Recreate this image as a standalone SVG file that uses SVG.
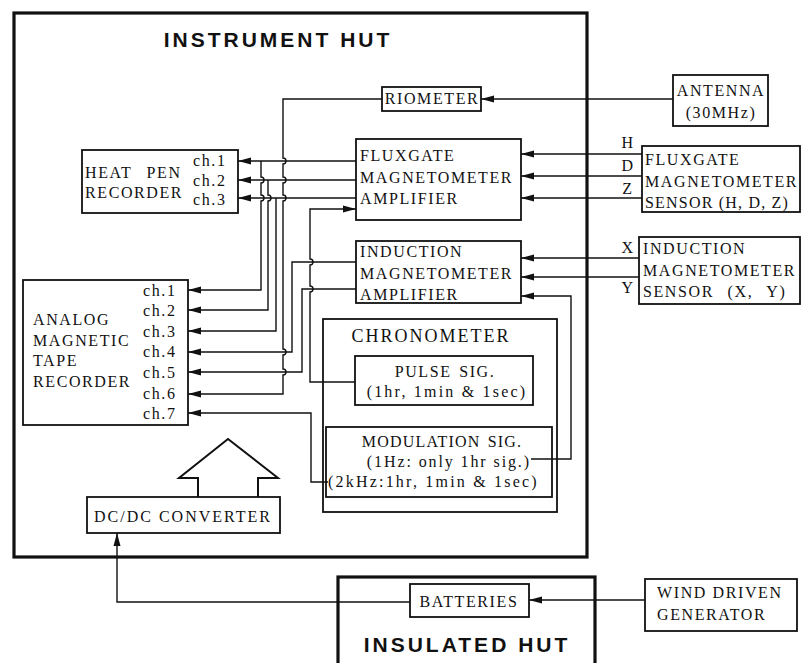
<svg xmlns="http://www.w3.org/2000/svg" width="801" height="663" viewBox="0 0 801 663">
<style>
.bg{fill:#fff}
.box{fill:none;stroke:#111;stroke-width:1.8}
.hut{fill:none;stroke:#111;stroke-width:3.2}
.ln{fill:none;stroke:#111;stroke-width:1.4}
.t{font-family:"Liberation Serif","Times New Roman",serif;font-size:16px;letter-spacing:1.6px;fill:#111}
.m{text-anchor:middle}
.e{text-anchor:end}
.h{font-family:"Liberation Sans",Arial,sans-serif;font-weight:bold;font-size:21px;letter-spacing:3px;fill:#111;text-anchor:middle}
</style>
<defs>
<marker id="ar" markerWidth="14" markerHeight="8" refX="13" refY="4" orient="auto" markerUnits="userSpaceOnUse">
<path d="M0,0.5 L13,4 L0,7.5 z" fill="#111"/>
</marker>
</defs>
<rect class="bg" x="0" y="0" width="801" height="663"/>

<g id="instrument-hut">
<rect class="hut" x="14" y="13" width="573" height="544"/>
<text class="h" x="278" y="47">INSTRUMENT HUT</text>
</g>
<g id="insulated-hut">
<rect class="hut" x="338" y="577" width="257" height="95"/>
<text class="h" x="467" y="652">INSULATED HUT</text>
</g>

<g id="connectors">
<path class="ln" d="M673,99 H481" marker-end="url(#ar)"/>
<path class="ln" d="M382,99 H283 V158 a3,3 0 0 1 0,6 V177 a3,3 0 0 1 0,6 V195 a3,3 0 0 1 0,6 V349 a3,3 0 0 1 0,6 V369 a3,3 0 0 1 0,6 V394 H188" marker-end="url(#ar)"/>
<path class="ln" d="M642,154 H521" marker-end="url(#ar)"/>
<path class="ln" d="M642,176 H521" marker-end="url(#ar)"/>
<path class="ln" d="M642,198 H521" marker-end="url(#ar)"/>
<path class="ln" d="M356,161 H238" marker-end="url(#ar)"/>
<path class="ln" d="M356,180 H238" marker-end="url(#ar)"/>
<path class="ln" d="M356,198 H238" marker-end="url(#ar)"/>
<path class="ln" d="M261,161 V177 a3,3 0 0 1 0,6 V195 a3,3 0 0 1 0,6 V290 H188" marker-end="url(#ar)"/>
<path class="ln" d="M268,180 V195 a3,3 0 0 1 0,6 V310 H188" marker-end="url(#ar)"/>
<path class="ln" d="M276,198 V331 H188" marker-end="url(#ar)"/>
<path class="ln" d="M639,258 H521" marker-end="url(#ar)"/>
<path class="ln" d="M639,277 H521" marker-end="url(#ar)"/>
<path class="ln" d="M356,262 H292 V352 H188" marker-end="url(#ar)"/>
<path class="ln" d="M356,289 H302 V372 H188" marker-end="url(#ar)"/>
<path class="ln" d="M355,382 H310 V292 a3,3 0 0 0 0,-6 V265 a3,3 0 0 0 0,-6 V209 H356" marker-end="url(#ar)"/>
<path class="ln" d="M328,482 H311 V413 H188" marker-end="url(#ar)"/>
<path class="ln" d="M531,459 H571 V296 H521" marker-end="url(#ar)"/>
<path class="ln" d="M410,602 H117 V533" marker-end="url(#ar)"/>
<path class="ln" d="M645,600 H529" marker-end="url(#ar)"/>
<path fill="none" stroke="#111" stroke-width="2" d="M198,497 V478 H179 L228,439 L278,478 H258 V497"/>
</g>

<g id="riometer">
<rect class="box" x="382" y="87" width="99" height="24"/>
<text class="t m" x="432" y="104">RIOMETER</text>
</g>
<g id="antenna">
<rect class="box" x="673" y="75" width="95" height="51"/>
<text class="t m" x="721" y="96">ANTENNA</text>
<text class="t m" x="721" y="118">(30MHz)</text>
</g>
<g id="heat-pen-recorder">
<rect class="box" x="82" y="150" width="156" height="63"/>
<text class="t" x="85" y="178" word-spacing="9">HEAT PEN</text>
<text class="t" x="85" y="198">RECORDER</text>
<text class="t" x="193" y="166">ch.1</text>
<text class="t" x="193" y="186">ch.2</text>
<text class="t" x="193" y="205">ch.3</text>
</g>
<g id="fluxgate-amplifier">
<rect class="box" x="356" y="139" width="165" height="81"/>
<text class="t" x="360" y="161">FLUXGATE</text>
<text class="t" x="360" y="183">MAGNETOMETER</text>
<text class="t" x="360" y="204">AMPLIFIER</text>
</g>
<g id="fluxgate-sensor">
<rect class="box" x="642" y="146" width="158" height="66"/>
<text class="t" x="645" y="165">FLUXGATE</text>
<text class="t" x="645" y="187">MAGNETOMETER</text>
<text class="t" x="645" y="208" style="letter-spacing:1.2px">SENSOR (H, D, Z)</text>
<text class="t m" x="628" y="148">H</text>
<text class="t m" x="628" y="171">D</text>
<text class="t m" x="628" y="194">Z</text>
</g>
<g id="induction-amplifier">
<rect class="box" x="356" y="241" width="165" height="62"/>
<text class="t" x="360" y="257">INDUCTION</text>
<text class="t" x="360" y="279">MAGNETOMETER</text>
<text class="t" x="360" y="300">AMPLIFIER</text>
</g>
<g id="induction-sensor">
<rect class="box" x="639" y="237" width="161" height="67"/>
<text class="t" x="643" y="254">INDUCTION</text>
<text class="t" x="643" y="276">MAGNETOMETER</text>
<text class="t" x="643" y="297" word-spacing="8">SENSOR (X, Y)</text>
<text class="t m" x="628" y="253">X</text>
<text class="t m" x="628" y="293">Y</text>
</g>
<g id="tape-recorder">
<rect class="box" x="23" y="280" width="165" height="145"/>
<text class="t" x="33" y="325">ANALOG</text>
<text class="t" x="33" y="346">MAGNETIC</text>
<text class="t" x="33" y="366">TAPE</text>
<text class="t" x="33" y="387">RECORDER</text>
<text class="t" x="143" y="296">ch.1</text>
<text class="t" x="143" y="316">ch.2</text>
<text class="t" x="143" y="337">ch.3</text>
<text class="t" x="143" y="357">ch.4</text>
<text class="t" x="143" y="378">ch.5</text>
<text class="t" x="143" y="399">ch.6</text>
<text class="t" x="143" y="419">ch.7</text>
</g>
<g id="chronometer">
<rect class="box" x="323" y="319" width="234" height="193"/>
<text class="t m" x="431" y="342" style="font-size:18px;letter-spacing:2px">CHRONOMETER</text>
</g>
<g id="pulse-sig">
<rect class="box" x="355" y="356" width="178" height="49"/>
<text class="t m" x="445" y="377" word-spacing="2">PULSE SIG.</text>
<text class="t m" x="447" y="397" style="letter-spacing:2.2px">(1hr, 1min &amp; 1sec)</text>
</g>
<g id="modulation-sig">
<rect class="box" x="326" y="427" width="226" height="70"/>
<text class="t m" x="442" y="447" word-spacing="2" style="letter-spacing:1.2px">MODULATION SIG.</text>
<text class="t e" x="531" y="467" style="letter-spacing:1.9px">(1Hz: only 1hr sig.)</text>
<text class="t" x="328" y="487" style="letter-spacing:2.2px">(2kHz:1hr, 1min &amp; 1sec)</text>
</g>
<g id="dc-dc-converter">
<rect class="box" x="87" y="497" width="193" height="36"/>
<text class="t m" x="183" y="522" style="letter-spacing:2px">DC/DC CONVERTER</text>
</g>
<g id="batteries">
<rect class="box" x="410" y="584" width="119" height="33"/>
<text class="t m" x="469" y="607">BATTERIES</text>
</g>
<g id="wind-generator">
<rect class="box" x="645" y="579" width="152" height="52"/>
<text class="t" x="657" y="598">WIND DRIVEN</text>
<text class="t" x="657" y="620">GENERATOR</text>
</g>
</svg>
